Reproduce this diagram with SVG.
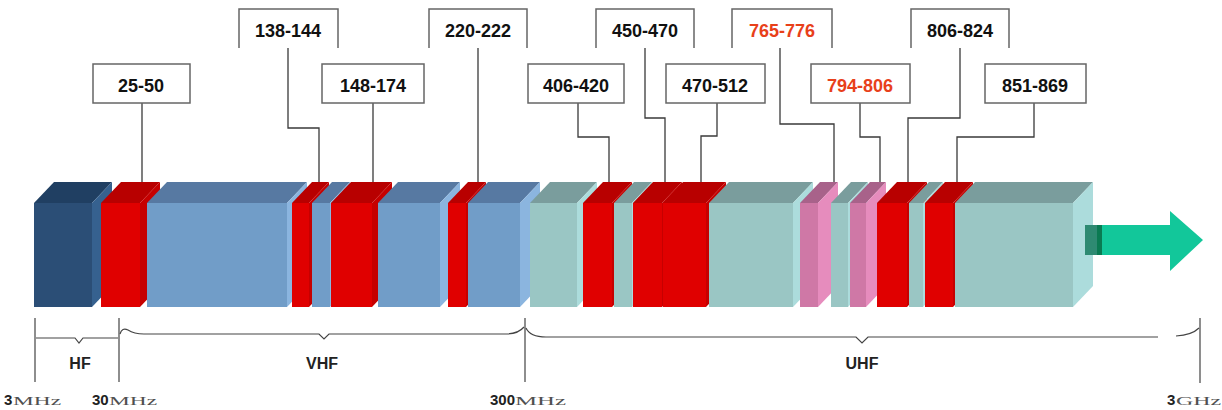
<svg xmlns="http://www.w3.org/2000/svg" width="1222" height="410" viewBox="0 0 1222 410">
<style>
.lbl{font-family:"Liberation Sans",Arial,sans-serif;font-weight:bold;font-size:18px;fill:#111;text-anchor:middle}
.red{fill:#e8401a}
.box{fill:#fff;stroke:#666;stroke-width:1.5}
.open{fill:none;stroke:#666;stroke-width:1.5}
.ld{fill:none;stroke:#3a3a3a;stroke-width:1.3}
.ax{fill:none;stroke:#444;stroke-width:1.2}
.band{font-family:"Liberation Sans",Arial,sans-serif;font-weight:bold;font-size:16px;fill:#222;text-anchor:middle}
.num{font-family:"Liberation Sans",Arial,sans-serif;font-weight:bold;font-size:15px;fill:#222}
.unit{font-family:"Liberation Serif","Times New Roman",serif;font-size:13px;fill:#505050}
.dbF{fill:#2b4e76}.dbT{fill:#203f62}.dbS{fill:#36618f}
.rF{fill:#e00000}.rT{fill:#b80000}.rS{fill:#c60000}
.lbF{fill:#719dc8}.lbT{fill:#5779a2}.lbS{fill:#8bb5df}
.tF{fill:#9ac6c4}.tT{fill:#7a9d9d}.tS{fill:#acdcdc}
.pF{fill:#cf78a6}.pT{fill:#a8628a}.pS{fill:#e68cbd}
</style>

<g id="connectors">
<path class="ld" d="M142,103 V185"/>
<path class="ld" d="M288,48 V128 H319 V185"/>
<path class="ld" d="M373,103 V185"/>
<path class="ld" d="M478,48 V185"/>
<path class="ld" d="M578,103 V137 H609 V185"/>
<path class="ld" d="M645,48 V118 H665 V185"/>
<path class="ld" d="M717,103 V136 H701 V185"/>
<path class="ld" d="M780,48 V124 H834 V185"/>
<path class="ld" d="M860,103 V137 H880 V185"/>
<path class="ld" d="M960,48 V118 H908 V185"/>
<path class="ld" d="M1034,103 V137 H957 V185"/>
</g>

<g id="bar">
<g id="b1"><polygon class="dbT" points="34,203 54,182 112,182 92,203"/><rect class="dbF" x="34" y="203" width="58" height="104"/><polygon class="dbS" points="92,203 112,182 112,286 92,307"/></g>
<g id="b2"><polygon class="rT" points="101,203 121,182 160,182 140,203"/><rect class="rF" x="101" y="203" width="39" height="104"/><polygon class="rS" points="140,203 160,182 160,286 140,307"/></g>
<g id="b3"><polygon class="lbT" points="147,203 167,182 307,182 287,203"/><rect class="lbF" x="147" y="203" width="140" height="104"/><polygon class="lbS" points="287,203 307,182 307,286 287,307"/></g>
<g id="b4"><polygon class="rT" points="292,203 312,182 329,182 309,203"/><rect class="rF" x="292" y="203" width="17" height="104"/><polygon class="rS" points="309,203 329,182 329,286 309,307"/></g>
<g id="b5"><polygon class="lbT" points="312,203 332,182 350,182 330,203"/><rect class="lbF" x="312" y="203" width="18" height="104"/><polygon class="lbS" points="330,203 350,182 350,286 330,307"/></g>
<g id="b6"><polygon class="rT" points="331,203 351,182 392,182 372,203"/><rect class="rF" x="331" y="203" width="41" height="104"/><polygon class="rS" points="372,203 392,182 392,286 372,307"/></g>
<g id="b7"><polygon class="lbT" points="378,203 398,182 460,182 440,203"/><rect class="lbF" x="378" y="203" width="62" height="104"/><polygon class="lbS" points="440,203 460,182 460,286 440,307"/></g>
<g id="b8"><polygon class="rT" points="448,203 468,182 486,182 466,203"/><rect class="rF" x="448" y="203" width="18" height="104"/><polygon class="rS" points="466,203 486,182 486,286 466,307"/></g>
<g id="b9"><polygon class="lbT" points="468,203 488,182 540,182 520,203"/><rect class="lbF" x="468" y="203" width="52" height="104"/><polygon class="lbS" points="520,203 540,182 540,286 520,307"/></g>
<g id="b10"><polygon class="tT" points="530,203 550,182 597,182 577,203"/><rect class="tF" x="530" y="203" width="47" height="104"/><polygon class="tS" points="577,203 597,182 597,286 577,307"/></g>
<g id="b11"><polygon class="rT" points="583,203 603,182 632,182 612,203"/><rect class="rF" x="583" y="203" width="29" height="104"/><polygon class="rS" points="612,203 632,182 632,286 612,307"/></g>
<g id="b12"><polygon class="tT" points="614,203 634,182 652,182 632,203"/><rect class="tF" x="614" y="203" width="18" height="104"/><polygon class="tS" points="632,203 652,182 652,286 632,307"/></g>
<g id="b13"><polygon class="rT" points="633,203 653,182 682,182 662,203"/><rect class="rF" x="633" y="203" width="29" height="104"/><polygon class="rS" points="662,203 682,182 682,286 662,307"/></g>
<g id="b14"><polygon class="rT" points="663,203 683,182 726,182 706,203"/><rect class="rF" x="663" y="203" width="43" height="104"/><polygon class="rS" points="706,203 726,182 726,286 706,307"/></g>
<g id="b15"><polygon class="tT" points="709,203 729,182 813,182 793,203"/><rect class="tF" x="709" y="203" width="84" height="104"/><polygon class="tS" points="793,203 813,182 813,286 793,307"/></g>
<g id="b16"><polygon class="pT" points="800,203 820,182 838,182 818,203"/><rect class="pF" x="800" y="203" width="18" height="104"/><polygon class="pS" points="818,203 838,182 838,286 818,307"/></g>
<g id="b17"><polygon class="tT" points="831,203 851,182 868,182 848,203"/><rect class="tF" x="831" y="203" width="17" height="104"/><polygon class="tS" points="848,203 868,182 868,286 848,307"/></g>
<g id="b18"><polygon class="pT" points="850,203 870,182 886,182 866,203"/><rect class="pF" x="850" y="203" width="16" height="104"/><polygon class="pS" points="866,203 886,182 886,286 866,307"/></g>
<g id="b19"><polygon class="rT" points="877,203 897,182 927,182 907,203"/><rect class="rF" x="877" y="203" width="30" height="104"/><polygon class="rS" points="907,203 927,182 927,286 907,307"/></g>
<g id="b20"><polygon class="tT" points="909,203 929,182 943,182 923,203"/><rect class="tF" x="909" y="203" width="14" height="104"/><polygon class="tS" points="923,203 943,182 943,286 923,307"/></g>
<g id="b21"><polygon class="rT" points="925,203 945,182 973,182 953,203"/><rect class="rF" x="925" y="203" width="28" height="104"/><polygon class="rS" points="953,203 973,182 973,286 953,307"/></g>
<g id="b22"><polygon class="tT" points="955,203 975,182 1093,182 1073,203"/><rect class="tF" x="955" y="203" width="118" height="104"/><polygon class="tS" points="1073,203 1093,182 1093,286 1073,307"/></g>
</g>

<g id="arrow">
<polygon fill="#12c79a" points="1085,225 1170,225 1170,211 1203,240 1170,271 1170,255 1085,255"/>
<rect x="1085" y="225" width="12" height="30" fill="#2e8a72"/>
<rect x="1097" y="225" width="5" height="30" fill="#0a7a52"/>
</g>

<g id="n25-50"><rect class="box" x="93" y="64" width="97" height="39"/><text class="lbl" x="141" y="92">25-50</text></g>
<g id="n138-144"><path class="open" d="M239,48 V9 H338 V48"/><text class="lbl" x="288" y="37">138-144</text></g>
<g id="n148-174"><rect class="box" x="322" y="64" width="102" height="39"/><text class="lbl" x="373" y="92">148-174</text></g>
<g id="n220-222"><path class="open" d="M429,48 V9 H527 V48"/><text class="lbl" x="478" y="37">220-222</text></g>
<g id="n406-420"><rect class="box" x="528" y="64" width="96" height="39"/><text class="lbl" x="576" y="92">406-420</text></g>
<g id="n450-470"><path class="open" d="M596,48 V9 H694 V48"/><text class="lbl" x="645" y="37">450-470</text></g>
<g id="n470-512"><rect class="box" x="666" y="64" width="99" height="39"/><text class="lbl" x="715" y="92">470-512</text></g>
<g id="n765-776"><path class="open" d="M732,48 V9 H832 V48"/><text class="lbl red" x="782" y="37">765-776</text></g>
<g id="n794-806"><rect class="box" x="811" y="64" width="99" height="39"/><text class="lbl red" x="860" y="92">794-806</text></g>
<g id="n806-824"><path class="open" d="M911,48 V9 H1009 V48"/><text class="lbl" x="960" y="37">806-824</text></g>
<g id="n851-869"><rect class="box" x="985" y="64" width="101" height="39"/><text class="lbl" x="1035" y="92">851-869</text></g>

<g id="axis">
<path class="ax" d="M35,318 V382 M119,318 V382 M525,318 V382 M1200,318 V383"/>
<path class="ax" d="M36,338 H75 L79,343 L83,338 H118"/>
<path class="ax" d="M120,334 Q122,327 128,330 Q134,334 144,334 H319 L324,339 L329,334 H506 Q518,334 524,327"/>
<path class="ax" d="M526,328 Q530,337 546,337 H856 L862,343 L868,337 H1158 M1176,336 Q1192,335 1199,328"/>
<text class="band" x="80" y="369">HF</text>
<text class="band" x="322" y="369">VHF</text>
<text class="band" x="862" y="369">UHF</text>
<text class="num" x="4" y="405">3</text>
<text class="unit" x="13" y="405" textLength="48" lengthAdjust="spacingAndGlyphs">MHz</text>
<text class="num" x="92" y="405">30</text>
<text class="unit" x="109" y="405" textLength="48" lengthAdjust="spacingAndGlyphs">MHz</text>
<text class="num" x="490" y="405">300</text>
<text class="unit" x="515" y="405" textLength="51" lengthAdjust="spacingAndGlyphs">MHz</text>
<text class="num" x="1167" y="405">3</text>
<text class="unit" x="1176" y="405" textLength="45" lengthAdjust="spacingAndGlyphs">GHz</text>
</g>
</svg>
